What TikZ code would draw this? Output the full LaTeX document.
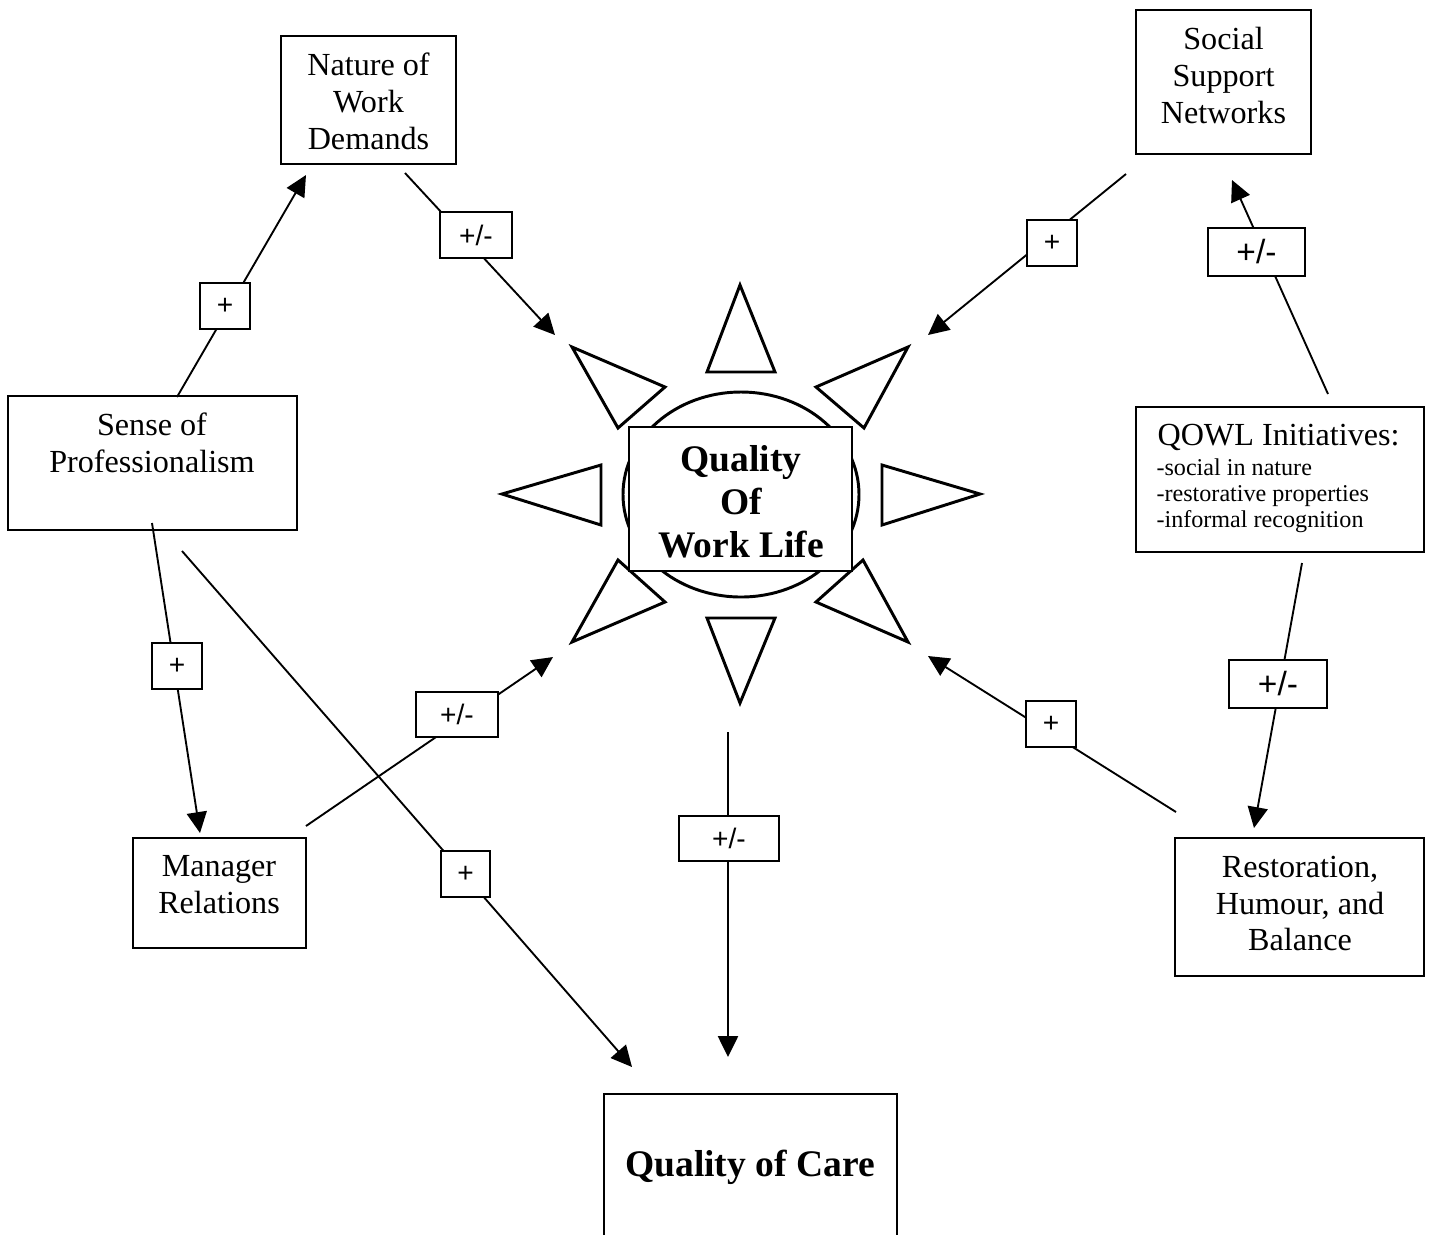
\documentclass[tikz,border=0pt]{standalone}
\usepackage{fontspec}
\setmainfont{Liberation Serif}
\newfontfamily\lblfont{Liberation Sans}
\usetikzlibrary{arrows.meta}
\begin{document}
\begin{tikzpicture}[x=0.3731pt, y=-0.3731pt,
  sz/.style 2 args={minimum width=#1*0.3731pt, minimum height=#2*0.3731pt},
  box/.style={draw, line width=0.75pt, inner sep=0},
  txt/.style={font=\fontsize{12}{13.8}\selectfont, align=center, inner sep=0},
  lbl/.style={draw, line width=0.7pt, fill=white, inner sep=0, font=\lblfont\fontsize{10.5}{12}\selectfont},
  biglbl/.style={lbl, font=\lblfont\fontsize{12.5}{14}\selectfont},
  arr/.style={line width=0.7pt, -{Triangle[length=7.8pt,width=7.5pt]}},
  ray/.style={line width=1.1pt, line join=miter}]
\useasboundingbox (0,0) rectangle (1430,1234);
\clip (0,0) rectangle (1430,1234);

% sun rays
\draw[ray] (707,372) -- (740,285) -- (775,372) -- cycle;
\draw[ray] (707,618) -- (775,618) -- (740,703) -- cycle;
\draw[ray] (601,465) -- (502,494) -- (601,525) -- cycle;
\draw[ray] (882,465) -- (980,494) -- (882,525) -- cycle;
\draw[ray] (572,347) -- (665,387) -- (618,428) -- cycle;
\draw[ray] (908,347) -- (816,387) -- (864,428) -- cycle;
\draw[ray] (618,560) -- (665,602) -- (572,642) -- cycle;
\draw[ray] (863,560) -- (816,602) -- (908,642) -- cycle;
\draw[ray] (741,494.5) ellipse [x radius=118, y radius=102.5];

% boxes
\node[box, sz={175}{128}] (nature) at (368.5,100) {};
\node[box, sz={175}{144}] (social) at (1223.5,82) {};
\node[box, sz={289}{134}] (sense) at (152.5,463) {};
\node[box, sz={288}{145}] (qowl) at (1280,479.5) {};
\node[box, sz={173}{110}] (manager) at (219.5,893) {};
\node[box, sz={249}{138}] (restor) at (1299.5,907) {};
\node[box, sz={293}{300}] (care) at (750.5,1244) {};
\node[draw, line width=0.5pt, fill=white, inner sep=0, sz={223}{144}] (qwl) at (740.5,499) {};

% texts
\node[txt] (natureT) at (368.5,101) {Nature of\\Work\\Demands};
\node[txt] (socialT) at (1223.5,75.5) {Social\\Support\\Networks};
\node[txt] (senseT) at (152,442.5) {Sense of\\Professionalism};
\node[txt] (managerT) at (219,885) {Manager\\Relations};
\node[txt] (restorT) at (1300,903.5) {Restoration,\\Humour, and\\Balance};
\node[txt, anchor=base west] (qowlT) at (1157,445) {QOWL Initiatives:};
\node[anchor=west, inner sep=0, align=left, font=\fontsize{9}{9.7}\selectfont] (qowlS) at (1156,495.5) {-social in nature\\-restorative properties\\-informal recognition};
\node[inner sep=0, align=center, font=\fontsize{14}{16}\selectfont\bfseries] (qwlT) at (741,502) {Quality\\Of\\Work Life};
\node[inner sep=0, anchor=base, font=\fontsize{14}{16}\selectfont\bfseries] (careT) at (750,1176) {Quality of Care};

% connector end points
\coordinate (a1s) at (177,397);  \coordinate (a1e) at (306,175);
\coordinate (a2s) at (405,173);  \coordinate (a2e) at (555,335);
\coordinate (a3s) at (1126,174); \coordinate (a3e) at (928,335);
\coordinate (a4s) at (1328,394); \coordinate (a4e) at (1232,180);
\coordinate (a5s) at (1302,563); \coordinate (a5e) at (1254,828);
\coordinate (a6s) at (1176,812); \coordinate (a6e) at (928,656);
\coordinate (a7s) at (728,732);  \coordinate (a7e) at (728,1057);
\coordinate (a8s) at (182,551);  \coordinate (a8e) at (632,1067);
\coordinate (a9s) at (152,523);  \coordinate (a9e) at (200,833);
\coordinate (a10s) at (306,826); \coordinate (a10e) at (553,657);

\draw[arr] (a1s) -- (a1e);
\draw[arr] (a2s) -- (a2e);
\draw[arr] (a3s) -- (a3e);
\draw[arr] (a4s) -- (a4e);
\draw[arr] (a5s) -- (a5e);
\draw[arr] (a6s) -- (a6e);
\draw[arr] (a7s) -- (a7e);
\draw[arr] (a8s) -- (a8e);
\draw[arr] (a9s) -- (a9e);
\draw[arr] (a10s) -- (a10e);

% labels
\node[lbl, sz={72}{46}] (l1) at (476,235) {+/-};
\node[lbl, sz={50}{46}] (l2) at (225,306) {+};
\node[lbl, sz={50}{46}] (l3) at (1052,243) {+};
\node[biglbl, sz={97}{48}] (l4) at (1256.5,252) {+/-};
\node[lbl, sz={50}{46}] (l5) at (177,666) {+};
\node[lbl, sz={82}{45}] (l6) at (457,714.5) {+/-};
\node[lbl, sz={49}{46}] (l7) at (465.5,874) {+};
\node[lbl, sz={100}{45}] (l8) at (729,838.5) {+/-};
\node[lbl, sz={50}{46}] (l9) at (1051,724) {+};
\node[biglbl, sz={98}{48}] (l10) at (1278,684) {+/-};
\end{tikzpicture}
\end{document}
